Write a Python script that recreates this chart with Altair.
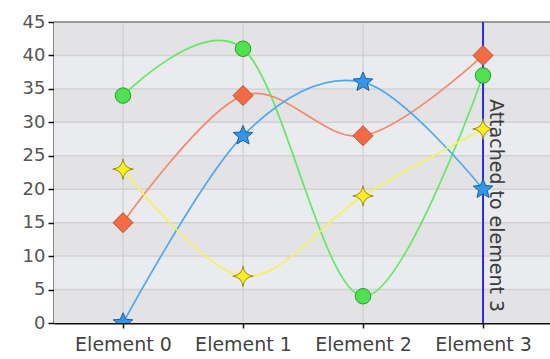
import altair as alt
import pandas as pd

# Category labels along the x axis
categories = ["Element 0", "Element 1", "Element 2", "Element 3"]

# Series values, one per category
green_values = [34, 41, 4, 37]
orange_values = [15, 34, 28, 40]
blue_values = [0, 28, 36, 20]
yellow_values = [23, 7, 19, 29]

# Y axis tick values
y_ticks = [0, 5, 10, 15, 20, 25, 30, 35, 40, 45]

annotation_text = "Attached to element 3"
annotation_index = 3

FONT = "DejaVu Sans"

# Marker shapes (custom paths in the -1..1 box)
STAR5 = ("M0,-1 L0.2645,-0.3641 L0.9511,-0.309 L0.428,0.1391 L0.5878,0.809 "
         "L0,0.45 L-0.5878,0.809 L-0.428,0.1391 L-0.9511,-0.309 L-0.2645,-0.3641 Z")
STAR4 = "M0,-1 Q0.1,-0.1 1,0 Q0.1,0.1 0,1 Q-0.1,0.1 -1,0 Q-0.1,-0.1 0,-1 Z"

series = [
    # name, values, line colour, fill, stroke, shape, size
    ("green", green_values, "#5fea5f", "#4ee24e", "#2c9a2c", "circle", 240),
    ("orange", orange_values, "#f3896a", "#f46a44", "#b4502f", "diamond", 400),
    ("blue", blue_values, "#4aaaf0", "#3396ea", "#1d5d9c", STAR5, 420),
    ("yellow", yellow_values, "#f5f25a", "#fbee1f", "#9a8d12", STAR4, 420),
]

x_scale = alt.Scale(domain=[-0.575, 3.558], nice=False, zero=False)
y_scale = alt.Scale(domain=[0, 45], nice=False, zero=True)

label_expr = "[" + ",".join(f"'{c}'" for c in categories) + "][datum.value]"

x_axis = alt.Axis(
    values=list(range(len(categories))), labelExpr=label_expr, grid=False,
    domainColor="#111111", domainWidth=2, tickColor="#111111", tickWidth=1.5,
    tickSize=5, labelFontSize=19, labelFont=FONT, labelColor="#444444",
    labelPadding=7, title=None, labelOverlap=False,
)
y_axis = alt.Axis(
    values=y_ticks, grid=False, domainColor="#111111", domainWidth=2,
    tickColor="#111111", tickWidth=1.5, tickSize=6, labelFontSize=18,
    labelFont=FONT, labelColor="#555555", labelPadding=3, title=None,
    labelOverlap=False,
)


def X(field):
    return alt.X(field, scale=x_scale, axis=x_axis)


def Y(field):
    return alt.Y(field, scale=y_scale, axis=y_axis)


# Alternating horizontal background bands
bands = pd.DataFrame({
    "lo": y_ticks[:-1],
    "hi": y_ticks[1:],
    "shade": ["dark" if i % 2 == 0 else "light" for i in range(len(y_ticks) - 1)],
})
band_layer = alt.Chart(bands).mark_rect().encode(
    x=alt.value(0), x2=alt.value(496),
    y=Y("lo:Q"),
    y2="hi:Q",
    color=alt.Color("shade:N", scale=alt.Scale(domain=["dark", "light"],
                                               range=["#e3e3e5", "#e9ebee"]),
                    legend=None),
)

# Grid lines
hgrid = alt.Chart(pd.DataFrame({"v": y_ticks[1:-1]})).mark_rule(
    color="#d2d2d4", strokeWidth=1.5
).encode(y=Y("v:Q"), x=alt.value(0), x2=alt.value(496))

vgrid = alt.Chart(pd.DataFrame({"i": list(range(len(categories)))})).mark_rule(
    color="#d2d2d4", strokeWidth=1.5
).encode(x=X("i:Q"), y=alt.value(0), y2=alt.value(301))

# Top border
top_rule = alt.Chart(pd.DataFrame({"a": [0]})).mark_rule(
    color="#9a9a9a", strokeWidth=2
).encode(y=alt.value(0), x=alt.value(0), x2=alt.value(496))

# Vertical marker line at the annotated element
attach = pd.DataFrame({"i": [annotation_index], "label": [annotation_text]})
attach_rule = alt.Chart(attach).mark_rule(color="#2a2ae8", strokeWidth=2).encode(
    x=X("i:Q"), y=alt.value(0), y2=alt.value(301)
)
attach_text = alt.Chart(attach).mark_text(
    angle=90, align="left", baseline="alphabetic", dy=-7,
    font=FONT, fontSize=19, color="#3a3a3a",
).encode(x=X("i:Q"), y=alt.value(77), text="label:N")

line_layers = []
point_layers = []
for name, vals, line_col, fill, stroke, shape, size in series:
    df = pd.DataFrame({"i": list(range(len(vals))), "v": vals})
    base = alt.Chart(df).encode(x=X("i:Q"), y=Y("v:Q"))
    line_layers.append(base.mark_line(interpolate="cardinal", color=line_col,
                                      strokeWidth=1.7, clip=True))
    point_layers.append(base.mark_point(shape=shape, size=size, filled=True,
                                        fill=fill, stroke=stroke, strokeWidth=1,
                                        opacity=1, clip=True))

chart = alt.layer(
    band_layer, hgrid, vgrid, top_rule, attach_rule,
    *line_layers, *point_layers, attach_text,
).properties(
    width=496, height=301,
    autosize=alt.AutoSizeParams(type="none"),
    padding={"left": 54, "top": 22, "right": 0, "bottom": 36},
    background="white",
).configure_view(stroke=None)

chart.save("out.html", embed_options={"renderer": "svg", "actions": False})
